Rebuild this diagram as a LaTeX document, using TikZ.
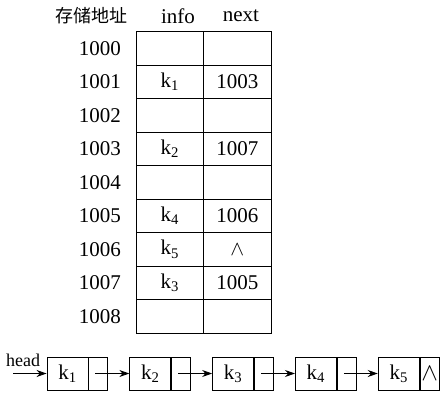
\documentclass[tikz,border=0pt]{standalone}
\usepackage{fontspec}
\setmainfont{Liberation Serif}
\newfontfamily\cjk{Noto Sans CJK SC}
\usetikzlibrary{positioning,arrows.meta}

\tikzset{
  txt/.style={inner sep=0pt, font=\fontsize{21}{21}\selectfont},
  cell/.style={draw, line width=0.9pt, minimum width=67.5pt, minimum height=33.5pt,
    inner sep=0pt, font=\fontsize{21}{21}\selectfont},
  infobox/.style={draw, line width=0.9pt, minimum width=41pt, minimum height=33pt,
    inner sep=0pt, font=\fontsize{21}{21}\selectfont},
  ptrbox/.style={draw, line width=0.9pt, minimum width=19pt, minimum height=33pt,
    inner sep=0pt},
}

\begin{document}
\begin{tikzpicture}[>={Stealth[length=10pt, width=7pt]}, x=1pt, y=-1pt]
  \useasboundingbox (0,0) rectangle (445,408);

  % Kopregel
  \node[txt, font=\fontsize{18}{18}\selectfont] (hdaddr) at (91,16) {\cjk 存储地址};
  \node[txt] (hdinfo) at (178,16) {info};
  \node[txt] (hdnext) at (241,16) {next};

  % Geheugentabel
  \foreach \i/\a/\b in {0/{}/{}, 1/{k\textsubscript{1}}/1003, 2/{}/{},
      3/{k\textsubscript{2}}/1007, 4/{}/{}, 5/{k\textsubscript{4}}/1006,
      6/{k\textsubscript{5}}/{$\wedge$}, 7/{k\textsubscript{3}}/1005, 8/{}/{}} {
    \pgfmathtruncatemacro{\adr}{1000+\i}
    \node[txt, anchor=east] (adr\i) at (121,48.25+33.5*\i) {\adr};
    \node[cell] (info\i) at (169.75,48.25+33.5*\i) {\a};
    \node[cell] (next\i) at (237.25,48.25+33.5*\i) {\b};
  }

  % Gekoppelde lijst
  \node[infobox] (l1) at (67.5,373.5) {k\textsubscript{1}};
  \node[ptrbox, right=0pt of l1] (p1) {};
  \foreach \i/\j in {1/2, 2/3, 3/4, 4/5} {
    \node[infobox, right=21pt of p\i] (l\j) {k\textsubscript{\j}};
    \node[ptrbox, right=0pt of l\j] (p\j) {};
  }
  \node[inner sep=0pt, font=\fontsize{32}{32}\selectfont] (nil) at (p5) {$\wedge$};

  % Pijlen
  \foreach \i/\j in {1/2, 2/3, 3/4, 4/5}
    \draw[->, line width=0.9pt] ([xshift=-3pt]p\i.center) -- (l\j.west);

  \coordinate (headin) at (13,373.5);
  \node[txt, font=\fontsize{18}{18}\selectfont, anchor=south west] (head) at (6,367) {head};
  \draw[->, line width=0.9pt] (headin) -- (l1.west);

\end{tikzpicture}
\end{document}
